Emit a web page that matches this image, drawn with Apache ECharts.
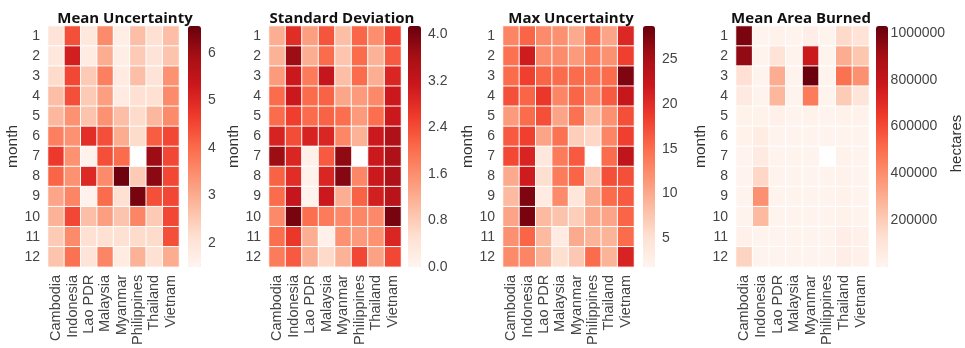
<!DOCTYPE html>
<html>
<head>
<meta charset="utf-8">
<script src="https://cdn.jsdelivr.net/npm/echarts@6/dist/echarts.min.js"></script>
<style>html,body{margin:0;padding:0;background:#fff}#c{width:965px;height:348px}</style>
</head>
<body>
<div id="c"></div>
<script>
const countries = ['Cambodia','Indonesia','Lao PDR','Malaysia','Myanmar','Philippines','Thailand','Vietnam'];
const months = ['1','2','3','4','5','6','7','8','9','10','11','12'];
const titles = ['Mean Uncertainty','Standard Deviation','Max Uncertainty','Mean Area Burned'];

const meanUnc = [
  [2.0, 4.4, 1.9, 3.5, 1.7, 2.7, 2.1, 2.7],
  [1.9, 5.2, 1.8, 3.0, 1.7, 2.5, 2.0, 2.6],
  [2.2, 4.5, 2.5, 3.7, 1.8, 2.7, 2.0, 3.4],
  [2.7, 4.4, 2.5, 3.2, 1.8, 2.1, 2.1, 3.5],
  [2.8, 3.4, 2.6, 3.4, 2.7, 2.2, 2.8, 3.5],
  [3.7, 3.4, 4.9, 4.4, 3.0, 2.2, 4.2, 4.5],
  [4.7, 3.4, 1.6, 4.4, 4.0, null, 6.0, 4.5],
  [4.1, 3.4, 5.0, 3.5, 6.5, 2.5, 6.2, 4.5],
  [3.1, 3.6, 1.6, 4.0, 2.1, 6.4, 4.4, 4.5],
  [2.9, 4.5, 2.7, 3.2, 2.6, 3.6, 2.5, 4.5],
  [2.5, 3.5, 2.1, 2.1, 2.1, 2.2, 2.2, 4.4],
  [2.6, 3.9, 2.0, 3.6, 1.8, 2.9, 2.1, 3.0]
];
const stdDev = [
  [1.2, 2.8, 1.4, 2.3, 1.0, 2.1, 1.6, 2.5],
  [1.15, 3.7, 1.2, 2.05, 0.9, 2.05, 1.15, 2.25],
  [1.45, 3.1, 1.85, 3.2, 1.0, 2.05, 1.2, 2.9],
  [2.05, 3.1, 2.05, 2.15, 1.3, 1.45, 1.65, 3.1],
  [2.05, 2.55, 2.05, 2.15, 2.0, 1.45, 2.0, 3.1],
  [2.95, 2.4, 2.95, 2.9, 1.7, 1.15, 3.1, 3.5],
  [3.7, 2.9, 0.1, 2.25, 3.8, null, 3.1, 3.5],
  [2.15, 2.8, 0.08, 2.9, 3.9, 1.7, 3.1, 3.5],
  [2.05, 3.2, 0.05, 3.1, 1.2, 2.15, 3.0, 3.35],
  [1.65, 4.0, 2.0, 1.85, 1.65, 1.7, 1.65, 4.0],
  [2.0, 2.65, 1.2, 0.12, 1.55, 1.45, 1.55, 2.9],
  [1.85, 2.25, 1.2, 0.6, 1.15, 2.45, 1.35, 2.45]
];
const maxUnc = [
  [13, 15.6, 12.5, 12, 9.9, 14.6, 10.4, 20.4],
  [14.6, 21.7, 12.5, 12.5, 11.2, 13.8, 12, 18.3],
  [15.1, 18.3, 15.6, 15.1, 15.1, 14.6, 15.1, 27.4],
  [17.2, 15.6, 19.0, 13, 15.6, 13, 16.4, 22.4],
  [11.2, 15.1, 17.2, 10.4, 14.6, 8.6, 12, 17.2],
  [16.4, 18.3, 10.4, 14.6, 6.8, 6.0, 13, 18.3],
  [17.7, 20.9, 3.9, 13.8, 16.4, null, 15.1, 23],
  [9.9, 21.7, 5.2, 13.8, 15.6, 7.3, 17.2, 17.2],
  [8.6, 27.4, 3.4, 12.5, 4.2, 9.9, 15.1, 16.4],
  [10.4, 27.7, 8.6, 7.8, 6.8, 9.9, 10.4, 15.6],
  [12, 15.6, 8.6, 3.4, 9.9, 9.1, 9.1, 15.1],
  [12.5, 13, 9.1, 5.2, 7.3, 15.1, 9.1, 20.9]
];
const areaBurned = [
  [990000, 10000, 20000, 10000, 40000, 10000, 150000, 110000],
  [940000, 15000, 110000, 10000, 770000, 10000, 300000, 220000],
  [120000, 15000, 300000, 10000, 1020000, 15000, 490000, 390000],
  [70000, 10000, 270000, 10000, 460000, 10000, 200000, 100000],
  [20000, 20000, 25000, 15000, 20000, 15000, 20000, 20000],
  [20000, 50000, 15000, 15000, 15000, 15000, 15000, 15000],
  [15000, 70000, 15000, 10000, 15000, null, 20000, 15000],
  [15000, 160000, 15000, 10000, 15000, 10000, 20000, 15000],
  [15000, 390000, 15000, 10000, 15000, 10000, 20000, 15000],
  [15000, 260000, 15000, 10000, 15000, 10000, 20000, 15000],
  [25000, 15000, 15000, 10000, 15000, 10000, 40000, 25000],
  [170000, 15000, 15000, 10000, 15000, 10000, 40000, 30000]
];

const meanUncRange = [1.49, 6.57];
const stdDevRange = [0, 4.14];
const maxUncRange = [1.8, 28.7];
const areaRange = [0, 1030000];

const meanUncTicks = [2, 3, 4, 5, 6];
const stdDevTicks = [0, 0.8, 1.6, 2.4, 3.2, 4.0];
const maxUncTicks = [5, 10, 15, 20, 25];
const areaTicks = [200000, 400000, 600000, 800000, 1000000];

const reds = ['#fff5f0','#fee0d2','#fcbba1','#fc9272','#fb6a4a','#ef3b2c','#cb181d','#a50f15','#67000d'];

const panels = [
  {title: titles[0], data: meanUnc, range: meanUncRange, ticks: meanUncTicks, fmt: v => String(v), hx: 48, hw: 131, cx: 188, cw: 13, tx: 120, cbName: ''},
  {title: titles[1], data: stdDev, range: stdDevRange, ticks: stdDevTicks, fmt: v => v.toFixed(1), hx: 269, hw: 132, cx: 408, cw: 13, tx: 337, cbName: ''},
  {title: titles[2], data: maxUnc, range: maxUncRange, ticks: maxUncTicks, fmt: v => String(v), hx: 503, hw: 131, cx: 643, cw: 12, tx: 566, cbName: ''},
  {title: titles[3], data: areaBurned, range: areaRange, ticks: areaTicks, fmt: v => String(v), hx: 736, hw: 133, cx: 876, cw: 12, tx: 796, cbName: 'hectares'}
];

const TOP = 26, H = 241;
const labelColor = '#444';
const font = 'Liberation Sans, Arial, sans-serif';

const option = {
  backgroundColor: '#fff',
  animation: false,
  title: [], grid: [], xAxis: [], yAxis: [], visualMap: [], series: []
};

panels.forEach((p, i) => {
  option.title.push({
    text: p.title, left: p.tx, top: 6, textAlign: 'center',
    textStyle: {fontFamily: 'Open Sans, sans-serif', fontWeight: 'bold', fontSize: 15, color: '#111'}
  });
  option.grid.push({left: p.hx, top: TOP, width: p.hw, height: H, containLabel: false});
  option.xAxis.push({
    type: 'category', data: countries, gridIndex: i,
    axisLine: {show: false}, axisTick: {show: false}, splitLine: {show: false},
    axisLabel: {rotate: 90, margin: 8, fontSize: 14.5, color: labelColor, fontFamily: font, interval: 0}
  });
  option.yAxis.push({
    type: 'category', data: months, gridIndex: i, inverse: true,
    name: 'month', nameLocation: 'middle', nameGap: 27, nameRotate: 90,
    nameTextStyle: {fontSize: 15.5, color: '#333', fontFamily: font},
    axisLine: {show: false}, axisTick: {show: false}, splitLine: {show: false},
    axisLabel: {margin: 8, fontSize: 14, color: labelColor, fontFamily: font, interval: 0}
  });
  const cells = [];
  p.data.forEach((row, r) => row.forEach((v, c) => { if (v !== null) cells.push([c, r, v]); }));
  option.series.push({
    type: 'heatmap', xAxisIndex: i, yAxisIndex: i, data: cells,
    itemStyle: {borderColor: '#fff', borderWidth: 1},
    emphasis: {disabled: true}
  });
  option.visualMap.push({
    type: 'continuous', seriesIndex: i, min: p.range[0], max: p.range[1],
    calculable: false, orient: 'vertical', left: p.cx, top: TOP,
    itemWidth: p.cw, itemHeight: H, padding: 0, text: null,
    inRange: {color: reds}, hoverLink: false
  });
});

// colorbar tick-label axes
panels.forEach((p, i) => {
  const gi = 4 + i;
  option.grid.push({left: p.cx, top: TOP, width: p.cw, height: H});
  option.xAxis.push({type: 'value', gridIndex: gi, show: false});
  option.yAxis.push({
    type: 'value', gridIndex: gi, position: 'right', min: p.range[0], max: p.range[1],
    name: p.cbName, nameLocation: 'middle', nameRotate: 90, nameGap: 61,
    nameTextStyle: {fontSize: 15, color: '#333', fontFamily: font, padding: [0, 0, 0, 6]},
    axisLine: {show: false}, axisTick: {show: false}, splitLine: {show: false},
    axisLabel: {customValues: p.ticks, formatter: p.fmt, margin: 7, fontSize: 14, color: labelColor, fontFamily: font}
  });
});

const chart = echarts.init(document.getElementById('c'), null, {renderer: 'canvas'});
chart.setOption(option);
</script>
</body>
</html>
